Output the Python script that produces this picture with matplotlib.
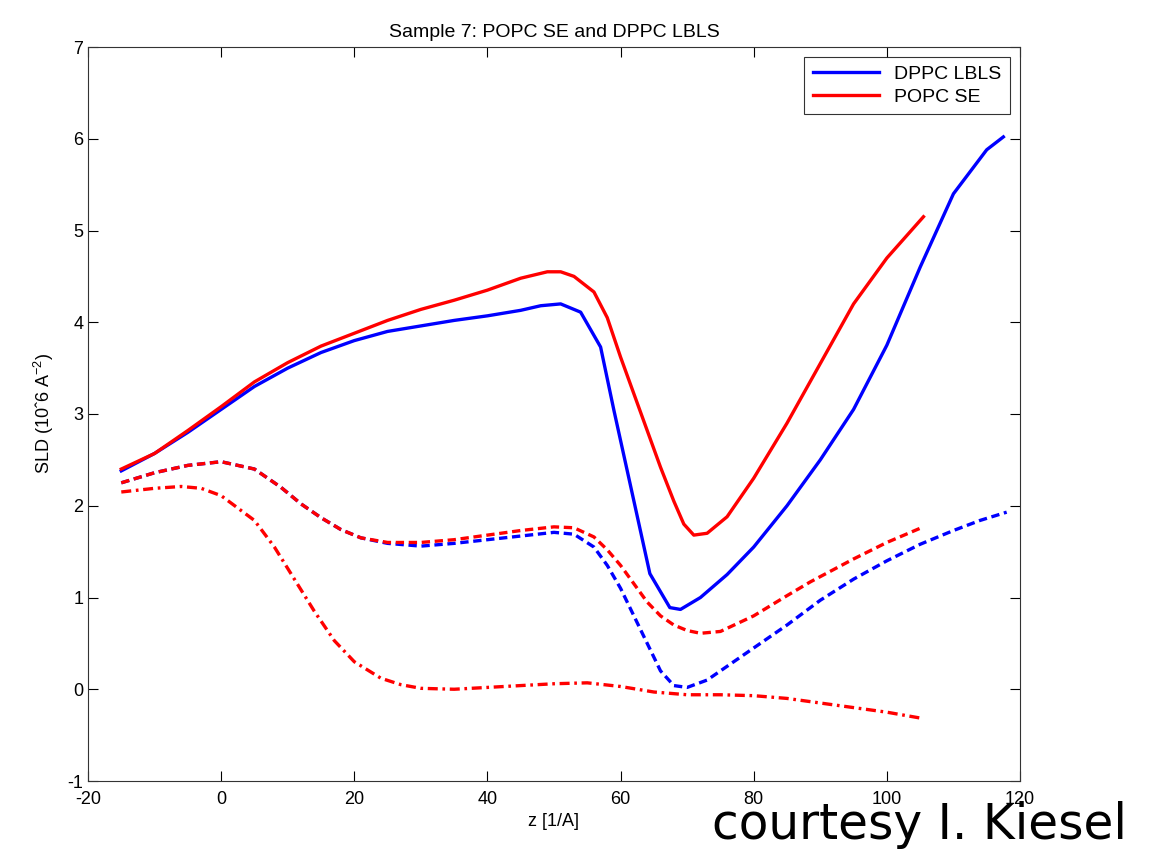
import matplotlib
matplotlib.use('Agg')
import matplotlib.pyplot as plt

plt.rcParams['font.family'] = ['Liberation Sans', 'DejaVu Sans']
plt.rcParams['mathtext.fontset'] = 'custom'
plt.rcParams['mathtext.rm'] = 'Liberation Sans'
plt.rcParams['mathtext.it'] = 'Liberation Sans'
plt.rcParams['axes.unicode_minus'] = False

# DPPC LBLS, solid
dppc_x = [-15, -10, -5, 0, 5, 10, 15, 20, 25, 30, 35, 40, 45, 48, 51, 54, 57, 59, 61.4, 64.4, 67.4, 69, 72, 76, 80, 85, 90, 95, 100, 105, 110, 115, 117.5]
dppc_y = [2.38, 2.57, 2.8, 3.05, 3.3, 3.5, 3.67, 3.8, 3.9, 3.96, 4.02, 4.07, 4.13, 4.18, 4.2, 4.11, 3.73, 3.04, 2.25, 1.26, 0.89, 0.87, 1.0, 1.25, 1.55, 2.0, 2.5, 3.05, 3.75, 4.6, 5.4, 5.88, 6.02]

# POPC SE, solid
popc_x = [-15, -10, -5, 0, 5, 10, 15, 20, 25, 30, 35, 40, 45, 49, 51, 53, 56, 58, 60, 63, 66, 68, 69.5, 71, 73, 76, 80, 85, 90, 95, 100, 105.5]
popc_y = [2.4, 2.57, 2.82, 3.08, 3.35, 3.56, 3.74, 3.88, 4.02, 4.14, 4.24, 4.35, 4.48, 4.55, 4.55, 4.5, 4.33, 4.05, 3.62, 3.02, 2.42, 2.05, 1.8, 1.68, 1.7, 1.88, 2.3, 2.9, 3.55, 4.2, 4.7, 5.15]

# DPPC LBLS, dashed
dppc_d_x = [-15, -10, -5, 0, 5, 9, 12, 15, 18, 21, 25, 30, 35, 40, 45, 50, 53, 56, 58, 60, 62, 64, 66, 68, 70, 73, 76, 80, 85, 90, 95, 100, 105, 110, 114, 118]
dppc_d_y = [2.25, 2.36, 2.44, 2.48, 2.4, 2.2, 2.02, 1.87, 1.74, 1.65, 1.59, 1.56, 1.59, 1.63, 1.67, 1.71, 1.69, 1.55, 1.35, 1.1, 0.8, 0.5, 0.2, 0.04, 0.02, 0.1, 0.25, 0.45, 0.7, 0.97, 1.2, 1.4, 1.58, 1.73, 1.84, 1.93]

# POPC SE, dashed
popc_d_x = [-15, -10, -5, 0, 5, 9, 12, 15, 18, 21, 25, 30, 35, 40, 45, 50, 53, 56, 58, 60, 62, 64, 66, 68, 70, 72, 75, 80, 85, 88.5, 95, 100, 105.5]
popc_d_y = [2.25, 2.36, 2.44, 2.48, 2.4, 2.2, 2.02, 1.87, 1.74, 1.65, 1.6, 1.6, 1.63, 1.68, 1.73, 1.77, 1.76, 1.66, 1.52, 1.35, 1.15, 0.95, 0.8, 0.7, 0.64, 0.61, 0.63, 0.8, 1.02, 1.17, 1.42, 1.6, 1.77]

# POPC SE, dash-dot
popc_dd_x = [-15, -10, -6, -3, 0, 5, 8, 11, 14, 17, 20, 24, 27, 30, 35, 40, 45, 50, 55, 60, 65, 70, 75, 80, 85, 90, 95, 100, 105.5]
popc_dd_y = [2.15, 2.19, 2.21, 2.19, 2.11, 1.84, 1.55, 1.2, 0.85, 0.53, 0.3, 0.12, 0.05, 0.01, 0.0, 0.02, 0.04, 0.06, 0.07, 0.03, -0.03, -0.06, -0.06, -0.07, -0.1, -0.15, -0.2, -0.25, -0.32]

fig = plt.figure(figsize=(11.49, 8.49), dpi=100)
ax = fig.add_axes([88 / 1149, 1 - 781 / 849, (1020 - 88) / 1149, (781 - 47) / 849])

lw = 2.4
ax.plot(dppc_d_x, dppc_d_y, '--', color='#0000ff', linewidth=lw, dashes=(2.5, 1.4))
ax.plot(popc_d_x, popc_d_y, '--', color='#ff0000', linewidth=lw, dashes=(2.5, 1.4))
ax.plot(popc_dd_x, popc_dd_y, '-.', color='#ff0000', linewidth=lw, dashes=(3, 1.4, 0.8, 1.4))
ax.plot(dppc_x, dppc_y, '-', color='#0000ff', linewidth=lw, label='DPPC LBLS')
ax.plot(popc_x, popc_y, '-', color='#ff0000', linewidth=lw, label='POPC SE')

ax.set_xlim(-20, 120)
ax.set_ylim(-1, 7)
ax.set_xticks(range(-20, 121, 20))
ax.set_yticks(range(-1, 8))
ax.tick_params(direction='in', top=True, right=True, labelsize=13, length=7, width=0.8)
ax.tick_params(axis='x', pad=7)
for s in ax.spines.values():
    s.set_color('#333333')
    s.set_linewidth(0.8)

ax.set_title('Sample 7: POPC SE and DPPC LBLS', fontsize=14, pad=7)
ax.set_xlabel('z [1/A]', fontsize=13, labelpad=4)
ax.set_ylabel('SLD (10\u02c66 A$^{-2}$)', fontsize=13, labelpad=8)

leg = ax.legend(loc='upper right', fontsize=14, frameon=True, fancybox=False,
                edgecolor='black', handlelength=3.4, borderaxespad=0.5,
                labelspacing=0.25, borderpad=0.45)
leg.get_frame().set_linewidth(0.8)

fig.text(0.62, 0.028, 'courtesy I. Kiesel', fontsize=35, color='black',
         family='DejaVu Sans', ha='left', va='center')

fig.savefig('out.png', dpi=100, facecolor='white')
